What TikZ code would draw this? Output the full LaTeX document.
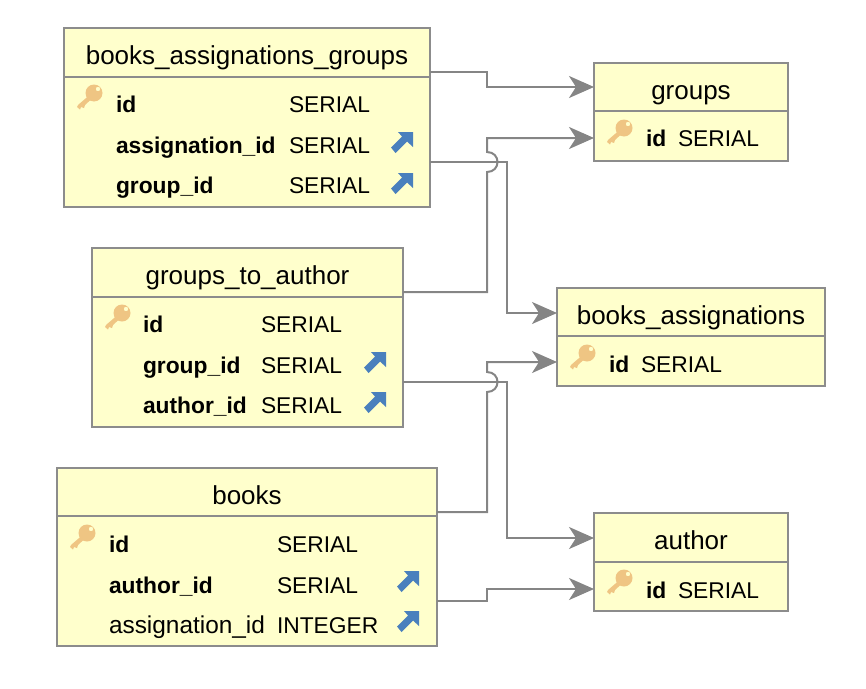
\documentclass[tikz,border=0pt]{standalone}
\usepackage{fontspec}
\setmainfont{Liberation Sans}
\usepackage{tikz}
\usetikzlibrary{positioning,arrows.meta}

\definecolor{tablefill}{HTML}{FFFFCC}
\definecolor{tableline}{HTML}{8C8C8C}
\definecolor{linkline}{HTML}{858585}
\definecolor{keycolor}{HTML}{EFC583}
\definecolor{fkcolor}{HTML}{4A80BD}

\tikzset{
  tablecell/.style={draw=tableline,fill=tablefill,line width=2pt,inner sep=0pt,outer sep=0pt},
  rowtext/.style={anchor=base west,inner sep=0pt,outer sep=0pt},
  titletext/.style={anchor=base,inner sep=0pt,font=\fontsize{26}{30}\selectfont},
  link/.style={draw=linkline,line width=2pt,-{Stealth[length=25pt,width=22pt,inset=7pt]}},
  keyicon/.pic={
    \fill[keycolor,even odd rule] (0,0) circle[radius=8.5] (4,-4) circle[radius=2.3];
    \fill[keycolor] (-5,2.5) -- (-2.5,6) -- (-9,12) -- (-10,15) -- (-13,14) -- (-14,16.5) -- (-17,14) -- (-16,12) -- cycle;
  },
  fkicon/.pic={
    \fill[fkcolor] (11,-11) -- (-4,-11) -- (0,-6.5) -- (-11,4.5) -- (-6.5,10) -- (5,-1.5) -- (11,4) -- cycle;
  }
}

\begin{document}
\begin{tikzpicture}[x=1pt,y=-1pt,font=\fontsize{22.8}{26}\selectfont]
  \useasboundingbox (0,0) rectangle (866,688);
  % tables: head and body cells
  \foreach \n/\l/\t/\w/\h/\hh/\title in {
      bag/64/28/366/179/49/books\_assignations\_groups,
      groups/594/63/194/98/48/groups,
      gta/92/248/311/179/49/groups\_to\_author,
      ba/557/288/268/98/48/books\_assignations,
      books/57/468/380/178/48/books,
      author/594/513/194/98/49/author}{
    \node[tablecell,anchor=north west,minimum width=\w pt,minimum height=\hh pt] (\n-head) at (\l,\t) {};
    \node[tablecell,below=0pt of \n-head,minimum width=\w pt,minimum height={(\h-\hh)*1pt}] (\n-body) {};
    \node[titletext] (\n-title) at ([yshift=-36pt]\n-head.north) {\title};
  }
  % rows: name and type
  \foreach \tb/\dy/\nx/\tx/\nm/\ty [count=\i] in {
      bag/84/52/225/\textbf{id}/SERIAL,
      bag/125/52/225/\textbf{assignation\_id}/SERIAL,
      bag/165/52/225/\textbf{group\_id}/SERIAL,
      groups/83/52/84/\textbf{id}/SERIAL,
      gta/84/51/169/\textbf{id}/SERIAL,
      gta/125/51/169/\textbf{group\_id}/SERIAL,
      gta/165/51/169/\textbf{author\_id}/SERIAL,
      ba/84/52/84/\textbf{id}/SERIAL,
      books/84/52/220/\textbf{id}/SERIAL,
      books/125/52/220/\textbf{author\_id}/SERIAL,
      books/165/52/220/{\fontsize{24.4}{26}\selectfont assignation\_id}/INTEGER,
      author/85/52/84/\textbf{id}/SERIAL}{
    \node[rowtext] (row-\i) at ([shift={(\nx,\dy)}]\tb-head.north west) {\nm};
    \node[rowtext] (type-\i) at ([shift={(\tx,\dy)}]\tb-head.north west) {\ty};
  }
  % key and foreign key marks
  \foreach \tb in {bag,groups,gta,ba,books,author}{
    \pic at ([shift={(30,65)}]\tb-head.north west) {keyicon};
  }
  \foreach \tb/\fx/\fy in {bag/338/115,bag/338/156,gta/283/115,gta/283/155,books/351/114,books/351/154}{
    \pic at ([shift={(\fx,\fy)}]\tb-head.north west) {fkicon};
  }
  % connectors
  \draw[link] ([yshift=-44pt]bag-head.north east) -| (487,87) -- (groups-head.west);
  \draw[link] ([yshift=-134pt]bag-head.north east) -| (507,313) -- ([yshift=-1pt]ba-head.west);
  \draw[link] ([yshift=-44pt]gta-head.north east) -| (487,172)
    .. controls (501,172) and (501,152) .. (487,152) |- ([yshift=-2pt]groups-body.west);
  \draw[link] ([yshift=-134pt]gta-head.north east) -| (507,538) -- ([yshift=-0.5pt]author-head.west);
  \draw[link] ([yshift=-44pt]books-head.north east) -| (487,392)
    .. controls (501,392) and (501,372) .. (487,372) |- ([yshift=-1pt]ba-body.west);
  \draw[link] ([yshift=-133pt]books-head.north east) -| (487,589) -- ([yshift=-2.5pt]author-body.west);
\end{tikzpicture}
\end{document}
